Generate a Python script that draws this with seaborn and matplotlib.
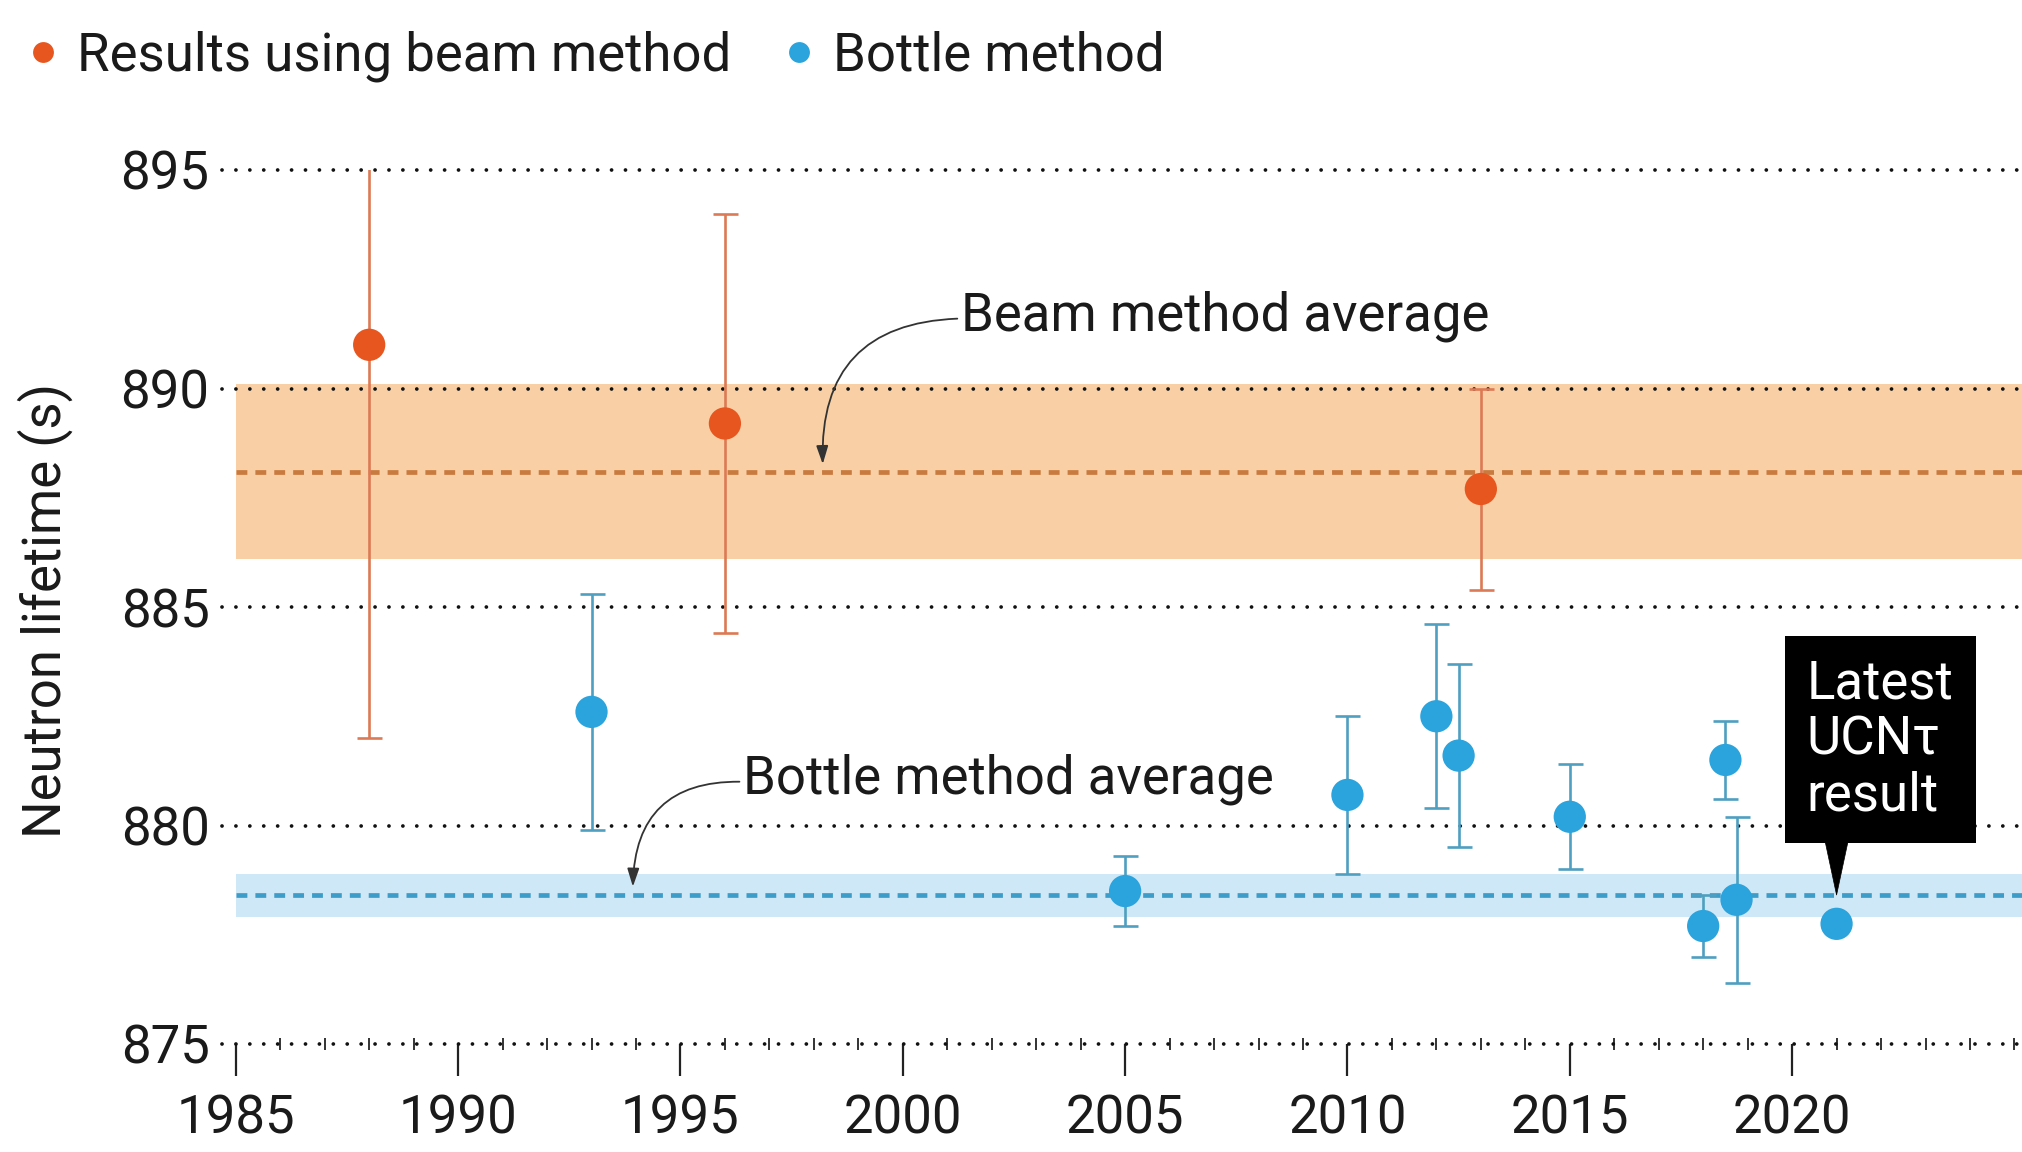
import matplotlib
matplotlib.use("Agg")
import matplotlib.pyplot as plt
from matplotlib.lines import Line2D
import seaborn as sns
import pandas as pd
import numpy as np

# ---------------- data ----------------
beam_years = [1988.0, 1996.0, 2013.0]
beam_vals = [891.0, 889.2, 887.7]
beam_errs = [9.0, 4.8, 2.3]

bottle_years = [1993.0, 2005.0, 2010.0, 2012.0, 2012.5, 2015.0, 2018.0, 2018.5, 2018.75, 2021.0]
bottle_vals = [882.6, 878.5, 880.7, 882.5, 881.6, 880.2, 877.7, 881.5, 878.3, 877.75]
bottle_errs = [2.7, 0.8, 1.8, 2.1, 2.1, 1.2, 0.7, 0.9, 1.9, 0.0]

beam_avg, beam_avg_err = 888.1, 2.0
bottle_avg, bottle_avg_err = 878.4, 0.5

y_ticks = [875, 880, 885, 890, 895]
x_major = [1985, 1990, 1995, 2000, 2005, 2010, 2015, 2020]
x_minor = list(range(1985, 2026))

legend_labels = ["Results using beam method", "Bottle method"]
ylabel = "Neutron lifetime (s)"
beam_note = "Beam method average"
bottle_note = "Bottle method average"
latest_note = "Latest\nUCNτ\nresult"

# ---------------- style ----------------
BEAM = "#e8561f"
BEAM_ERR = "#dc7a55"
BEAM_BAND = "#f9d0a6"
BEAM_DASH = "#c97a3e"
BOTTLE = "#2ba3dc"
BOTTLE_ERR = "#4f9fc0"
BOTTLE_BAND = "#cfe8f7"
BOTTLE_DASH = "#3d9dc8"

sns.set_theme(style="white")
plt.rcParams["font.family"] = ["Roboto", "DejaVu Sans"]
FS = 38

df = pd.DataFrame({
    "year": beam_years + bottle_years,
    "lifetime": beam_vals + bottle_vals,
    "err": beam_errs + bottle_errs,
    "method": ["beam"] * len(beam_years) + ["bottle"] * len(bottle_years),
})

fig = plt.figure(figsize=(20.22, 11.52), dpi=100)
ax = fig.add_axes([222 / 2022, 1 - 1044 / 1152, 1800 / 2022, 874 / 1152])

x_left, x_right = 1984.69, 2025.17
ax.set_xlim(x_left, x_right)
ax.set_ylim(875, 895)

# average bands and dashed lines
ax.fill_between([1985, x_right], beam_avg - beam_avg_err, beam_avg + beam_avg_err,
                color=BEAM_BAND, lw=0, zorder=1)
ax.fill_between([1985, x_right], bottle_avg - bottle_avg_err, bottle_avg + bottle_avg_err,
                color=BOTTLE_BAND, lw=0, zorder=1)
ax.plot([1985, x_right], [beam_avg, beam_avg], color=BEAM_DASH, lw=3.4,
        linestyle=(0, (2.3, 1.7)), zorder=2)
ax.plot([1985, x_right], [bottle_avg, bottle_avg], color=BOTTLE_DASH, lw=3.4,
        linestyle=(0, (2.3, 1.7)), zorder=2)

# dotted gridlines (incl. baseline)
for yv in y_ticks:
    ax.axhline(yv, color="#111111", lw=2.7, linestyle=(0, (0.01, 3.7)),
               dash_capstyle="round", zorder=2.5, clip_on=False)

# error bars
ax.errorbar(beam_years, beam_vals, yerr=beam_errs, fmt="none", ecolor=BEAM_ERR,
            elinewidth=1.9, capsize=9, capthick=1.9, zorder=3)
ax.errorbar(bottle_years, bottle_vals, yerr=bottle_errs, fmt="none", ecolor=BOTTLE_ERR,
            elinewidth=1.9, capsize=9, capthick=1.9, zorder=3)

# points via seaborn
sns.scatterplot(data=df, x="year", y="lifetime", hue="method",
                palette={"beam": BEAM, "bottle": BOTTLE}, s=540, linewidth=0,
                legend=False, ax=ax, zorder=4)

# axes styling
sns.despine(ax=ax, left=True, bottom=True, top=True, right=True)
ax.set_xlabel("")
ax.set_ylabel("")
ax.set_yticks(y_ticks)
ax.set_yticklabels([str(v) for v in y_ticks], fontsize=FS, color="#1a1a1a")
ax.tick_params(axis="y", length=0, pad=9)
ax.set_xticks(x_major)
ax.set_xticklabels([str(v) for v in x_major], fontsize=FS, color="#1a1a1a")
ax.set_xticks(x_minor, minor=True)
ax.tick_params(axis="x", which="major", direction="out", length=23, width=1.6,
               color="#222222", pad=13, bottom=True)
ax.tick_params(axis="x", which="minor", direction="inout", length=8, width=1.4,
               color="#333333", bottom=True)
ax.grid(False)

fig.text(45 / 2022, 0.47, ylabel, rotation=90, ha="center", va="center",
         fontsize=FS, color="#1a1a1a")

# annotations
arrow_kw = dict(arrowstyle="-|>,head_length=0.55,head_width=0.18", color="#333333",
                lw=1.3, mutation_scale=20, shrinkA=0, shrinkB=0,
                connectionstyle="arc3,rad=0.5", relpos=(0, 0.45))
ax.annotate(beam_note, xy=(1998.2, 888.27), xytext=(2001.3, 891.66),
            ha="left", va="center", fontsize=FS, color="#1a1a1a",
            arrowprops=arrow_kw, zorder=6)
ax.annotate(bottle_note, xy=(1993.93, 878.6), xytext=(1996.4, 881.06),
            ha="left", va="center", fontsize=FS, color="#1a1a1a",
            arrowprops=arrow_kw, zorder=6)

ax.text(2021.98, 881.96, latest_note, color="white", ha="center", va="center",
        multialignment="left", fontsize=FS, linespacing=1.12, zorder=7,
        bbox=dict(boxstyle="square,pad=0.42", fc="black", ec="none"))
ax.annotate("", xy=(2021.0, 878.41), xytext=(2021.0, 879.6),
            arrowprops=dict(arrowstyle="wedge,tail_width=1.6,shrink_factor=0.5",
                            fc="black", ec="black", lw=0.5, mutation_scale=10,
                            shrinkA=0, shrinkB=0), zorder=7)

# legend
handles = [Line2D([], [], marker="o", linestyle="none", markersize=15,
                  markerfacecolor=c, markeredgewidth=0) for c in (BEAM, BOTTLE)]
fig.legend(handles, legend_labels, loc="center left", bbox_to_anchor=(27 / 2022, 0.951),
           ncol=2, frameon=False, fontsize=FS, handlelength=0.6, handletextpad=0.34,
           columnspacing=1.0, borderpad=0, borderaxespad=0, labelcolor="#1a1a1a")

fig.savefig("out.png", dpi=100, facecolor="white")
